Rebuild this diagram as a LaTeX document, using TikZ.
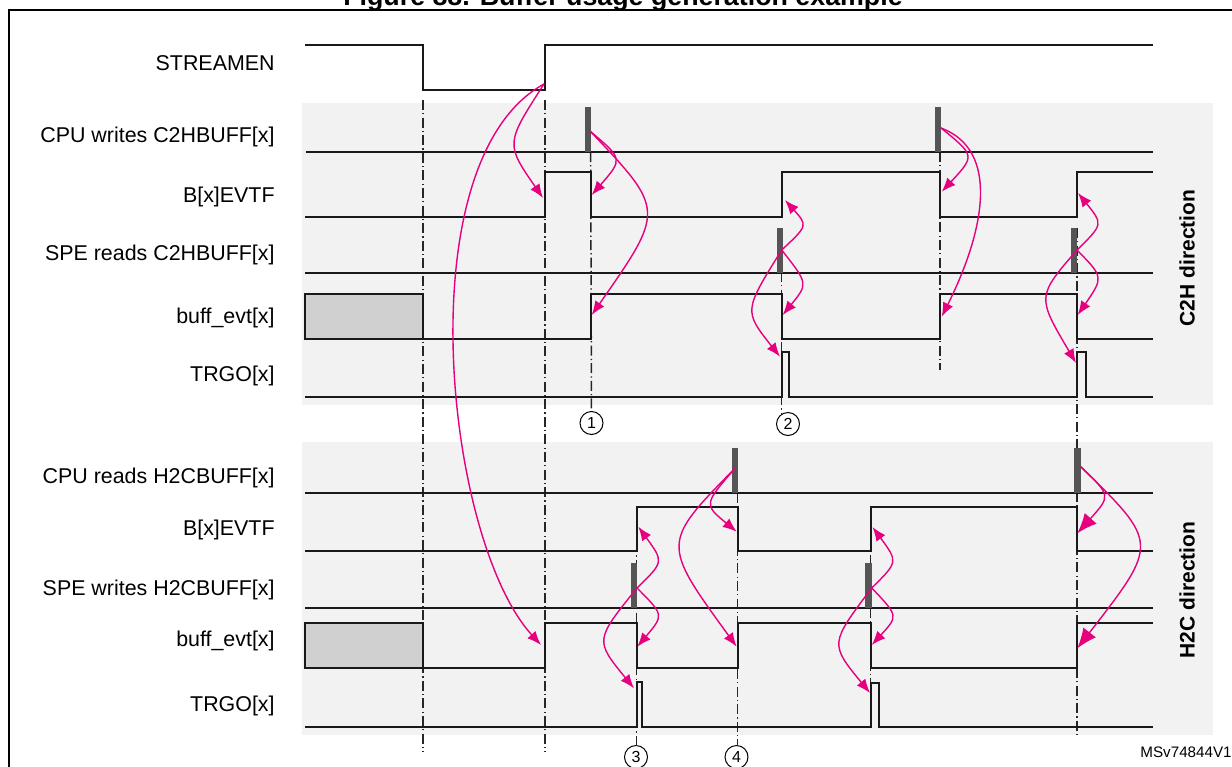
\documentclass[tikz,border=0pt]{standalone}
\usepackage{fontspec}
\setmainfont{Liberation Sans}
\usetikzlibrary{arrows.meta}
\definecolor{mag}{RGB}{230,0,126}
\definecolor{panel}{RGB}{242,242,242}
\definecolor{barc}{RGB}{85,85,85}
\definecolor{boxc}{RGB}{208,208,208}
\begin{document}
\begin{tikzpicture}[x=0.5pt,y=-0.5pt,
  sig/.style={line width=1pt,black!90,line join=miter},
  ddot/.style={line width=0.75pt,black!85,dash pattern=on 5pt off 1.6pt on 0.6pt off 1.6pt},
  arr/.style={mag,line width=0.7pt,-{Latex[length=7pt,width=5.5pt]}},
  bigarr/.style={mag,line width=0.7pt,-{Latex[length=10pt,width=8pt]}},
  barr/.style={fill=barc},
  lab/.style={anchor=east,inner sep=0pt,font=\fontsize{10.7}{12}\selectfont},
  dirlab/.style={rotate=90,font=\bfseries\fontsize{10.5}{12}\selectfont},
  circ/.style={circle,draw,line width=0.5pt,minimum size=11.5pt,inner sep=0pt,font=\fontsize{8}{9}\selectfont}]
\useasboundingbox (0,0) rectangle (1232,766);
\fill[white] (0,0) rectangle (1232,766);
% panels
\fill[panel] (302,103) rectangle (1213,405);
\fill[panel] (302,442) rectangle (1213,735);
% frame
\draw[line width=1pt] (9,790) -- (9,10) -- (1250,10);
% title (clipped by page top, as in the reference)
\node[font=\bfseries\fontsize{13.4}{15}\selectfont,anchor=base,inner sep=0pt] (title) at (623,5) {Figure 88. Buffer usage generation example};

% labels
\node[lab] (l0) at (275,63) {STREAMEN};
\node[lab] (l1) at (275,137) {CPU writes C2HBUFF[x]};
\node[lab] (l2) at (275,197) {B[x]EVTF};
\node[lab] (l3) at (275,255) {SPE reads C2HBUFF[x]};
\node[lab] (l4) at (275,318) {buff\_evt[x]};
\node[lab] (l5) at (275,376) {TRGO[x]};
\node[lab] (m1) at (275,478) {CPU reads H2CBUFF[x]};
\node[lab] (m2) at (275,530) {B[x]EVTF};
\node[lab] (m3) at (275,590) {SPE writes H2CBUFF[x]};
\node[lab] (m4) at (275,641) {buff\_evt[x]};
\node[lab] (m5) at (275,706) {TRGO[x]};
\node[dirlab] (d1) at (1187,258) {C2H direction};
\node[dirlab] (d2) at (1187,590) {H2C direction};
\node[anchor=base west,inner sep=0pt,font=\fontsize{7.6}{9}\selectfont] (ref) at (1140,757) {MSv74844V1};

% circled numbers
\node[circ] (c1) at (591.5,423) {1};
\node[circ] (c2) at (788,424) {2};
\node[circ] (c3) at (636,757) {3};
\node[circ] (c4) at (736.5,757) {4};

% dash-dot lines
\draw[ddot] (423,100) -- (423,752);
\draw[ddot] (545,100) -- (545,752);
\draw[ddot] (590.7,152) -- (c1);
\draw[ddot] (781.7,272) -- (781.7,413);
\draw[ddot] (940,152) -- (940,370);
\draw[ddot] (1077,228) -- (1077,735);
\draw[ddot] (636.7,507) -- (636.7,746);
\draw[ddot] (737.7,493) -- (737.7,746);
\draw[ddot] (870.7,520) -- (870.7,700);

% STREAMEN
\draw[sig] (305,44.5) -- (423,44.5) -- (423,90) -- (545,90) -- (545,44.5) -- (1153,44.5);
% C2H
\draw[sig] (306,152) -- (1153,152);
\fill[barr] (585,107) rectangle (591,152);
\fill[barr] (934.5,107) rectangle (941,152);
\draw[sig] (305,217) -- (545,217) -- (545,172) -- (591,172) -- (591,217) -- (782,217) -- (782,172) -- (940,172) -- (940,217) -- (1077,217) -- (1077,172) -- (1153,172);
\draw[sig] (305,273) -- (1153,273);
\fill[barr] (776.5,228) rectangle (782.5,273);
\fill[barr] (1071,228) rectangle (1077.3,273);
\filldraw[fill=boxc,draw=black!90,line width=1pt] (305,294) rectangle (423,339);
\draw[sig] (423,339) -- (591,339) -- (591,294) -- (782,294) -- (782,339) -- (940,339) -- (940,294) -- (1077,294) -- (1077,339) -- (1153,339);
\draw[sig] (305,397) -- (782,397) -- (782,352) -- (788.5,352) -- (788.5,397) -- (1077,397) -- (1077,352) -- (1085.5,352) -- (1085.5,397) -- (1153,397);
% H2C
\draw[sig] (305,493) -- (1153,493);
\fill[barr] (731.7,448) rectangle (737.7,493);
\fill[barr] (1074,448) rectangle (1080.7,493);
\draw[sig] (305,551) -- (637,551) -- (637,507) -- (737.7,507) -- (737.7,551) -- (870.7,551) -- (870.7,507) -- (1077,507) -- (1077,551) -- (1153,551);
\draw[sig] (305,608) -- (1153,608);
\fill[barr] (630.5,563) rectangle (636.7,608);
\fill[barr] (865,563) rectangle (871.5,608);
\filldraw[fill=boxc,draw=black!90,line width=1pt] (305,623) rectangle (423,668);
\draw[sig] (423,668) -- (545,668) -- (545,623) -- (637,623) -- (637,668) -- (737.7,668) -- (737.7,623) -- (870.7,623) -- (870.7,668) -- (1077,668) -- (1077,623) -- (1153,623);
\draw[sig] (305,727) -- (636.7,727) -- (636.7,682) -- (642,682) -- (642,727) -- (870.7,727) -- (870.7,682.5) -- (879,682.5) -- (879,727) -- (1153,727);

% arrow end points
\coordinate (st) at (544,84);
\coordinate (w1) at (590.7,131.7);
\coordinate (w2) at (941,128);
\coordinate (r1) at (781.7,250);
\coordinate (r2) at (1077,250);
\coordinate (q1) at (735,468.3);
\coordinate (q2) at (1080.7,466.7);
\coordinate (p1) at (637,588);
\coordinate (p2) at (871.7,588);

% STREAMEN arrows
\draw[arr] (st) .. controls (505.5,143.7) .. (543,198);
\draw[arr] (st) .. controls (405,160) and (445,540) .. (541,645);
% CPU writes 1
\draw[arr] (w1) .. controls (623,159) .. (591.7,195);
\draw[arr] (w1) .. controls (665,210) .. (591.7,315);
% SPE reads 1
\draw[arr] (r1) .. controls (807.8,225.6) .. (785,200);
\draw[arr] (r1) .. controls (808.2,283.7) .. (782.7,315);
\draw[arr] (r1) .. controls (743.7,310.9) .. (780,356.7);
% CPU writes 2
\draw[arr] (w2) .. controls (975.2,155.7) .. (941.7,191.7);
\draw[arr] (w2) .. controls (1000,150) and (985,230) .. (941.7,316.7);
% SPE reads 2
\draw[arr] (r2) .. controls (1103.2,224.3) .. (1078,193);
\draw[arr] (r2) .. controls (1103.6,277.2) .. (1077.7,315);
\draw[arr] (r2) .. controls (1036.8,296.5) .. (1076,363);
% SPE writes 1
\draw[arr] (p1) .. controls (663.9,561.9) .. (638.3,526.7);
\draw[arr] (p1) .. controls (664,615) .. (637.3,646.7);
\draw[arr] (p1) .. controls (594.8,640.3) .. (634,688.3);
% CPU reads 1
\draw[arr] (q1) .. controls (703.7,504.4) .. (736.7,531.7);
\draw[arr] (q1) .. controls (661.4,543.1) .. (736.7,646.7);
% SPE writes 2
\draw[arr] (p2) .. controls (898.2,561.9) .. (872.5,527);
\draw[arr] (p2) .. controls (898.4,615.9) .. (871.7,645);
\draw[arr] (p2) .. controls (829.7,643.8) .. (870,693);
% CPU reads 2
\draw[bigarr] (q2) .. controls (1111,495.6) .. (1077.3,533.3);
\draw[bigarr] (q2) .. controls (1159,543.1) .. (1077.3,648.3);
\end{tikzpicture}
\end{document}
